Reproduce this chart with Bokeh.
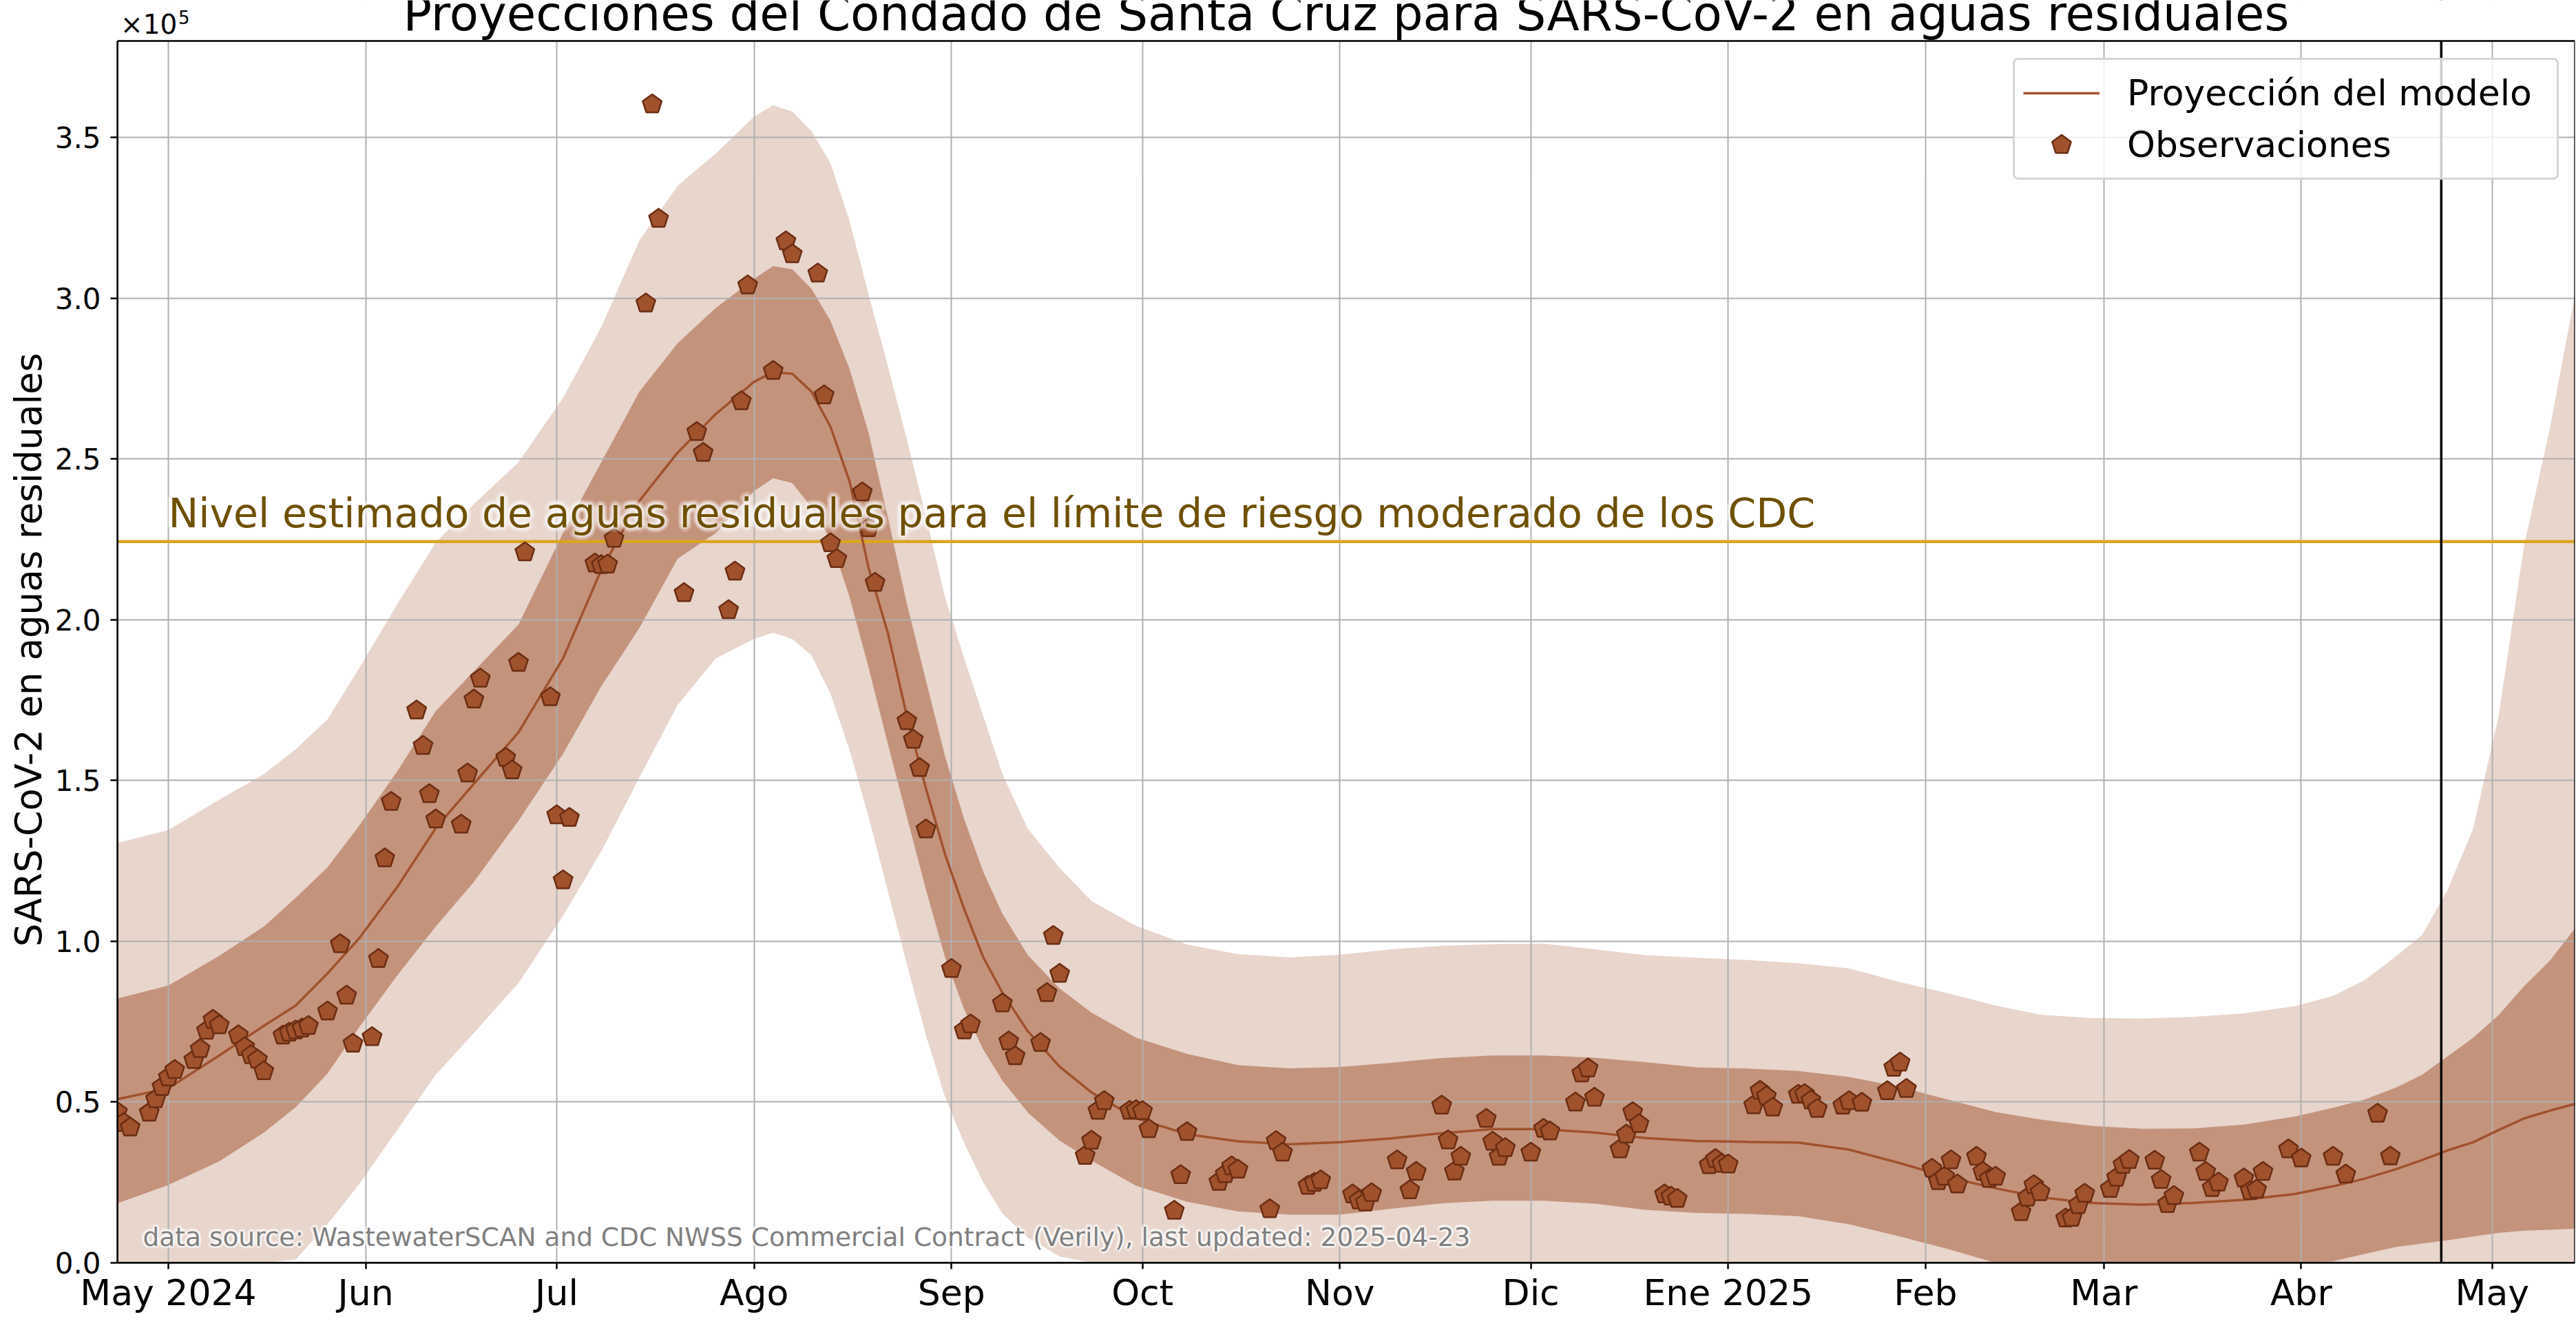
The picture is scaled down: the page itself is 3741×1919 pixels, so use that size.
import json
import numpy as np
import pandas as pd
from bokeh.plotting import figure
from bokeh.models import (Range1d, FixedTicker, CustomJSTickFormatter, Span, Label,
                          Legend, LegendItem, ColumnDataSource, BoxAnnotation)
from bokeh.embed import file_html
from bokeh.resources import INLINE

# ---------------- data ----------------
BASE_DATE = "2024-05-01"          # day 0 of the day offsets below
X_START, X_END = "2024-04-23", "2025-05-14"
LAST_UPDATED = "2025-04-23"
THRESHOLD = 2.243e5
Y_MAX = 3.80e5

tick_dates = ["2024-05-01", "2024-06-01", "2024-07-01", "2024-08-01", "2024-09-01",
              "2024-10-01", "2024-11-01", "2024-12-01", "2025-01-01", "2025-02-01",
              "2025-03-01", "2025-04-01", "2025-05-01"]
tick_labels = ["May 2024", "Jun", "Jul", "Ago", "Sep", "Oct", "Nov", "Dic",
               "Ene 2025", "Feb", "Mar", "Abr", "May"]
y_ticks = [0.0, 0.5e5, 1.0e5, 1.5e5, 2.0e5, 2.5e5, 3.0e5, 3.5e5]

# model projection (values in units of 1e5)
band_day = [-8, 0, 8, 15, 20, 25, 30, 36, 42, 48, 55, 62, 68, 74, 80, 86, 92, 95, 98,
            101, 104, 107, 110, 113, 116, 119, 122, 125, 128, 131, 135, 140, 145, 152,
            160, 168, 176, 184, 192, 200, 208, 216, 224, 232, 240, 248, 256, 264, 272,
            280, 287, 294, 302, 310, 318, 326, 334, 340, 345, 350, 354, 358, 362, 366,
            370, 374, 378]
median_e5 = [0.509, 0.543, 0.645, 0.737, 0.80, 0.90, 1.01, 1.17, 1.352, 1.49, 1.65, 1.88,
             2.155, 2.37, 2.52, 2.64, 2.74, 2.77, 2.765, 2.71, 2.60, 2.43, 2.16, 1.96,
             1.70, 1.475, 1.27, 1.10, 0.95, 0.84, 0.72, 0.61, 0.53, 0.45, 0.40, 0.378,
             0.369, 0.375, 0.387, 0.403, 0.416, 0.416, 0.405, 0.388, 0.379, 0.376, 0.374,
             0.352, 0.31, 0.264, 0.232, 0.204, 0.186, 0.181, 0.186, 0.196, 0.214, 0.238,
             0.262, 0.292, 0.32, 0.35, 0.375, 0.413, 0.449, 0.473, 0.494]
inner_lo_e5 = [0.185, 0.242, 0.316, 0.405, 0.484, 0.589, 0.733, 0.895, 1.046, 1.185, 1.375,
               1.583, 1.793, 1.975, 2.19, 2.27, 2.40, 2.44, 2.425, 2.35, 2.25, 2.07, 1.85,
               1.615, 1.387, 1.16, 0.95, 0.788, 0.663, 0.567, 0.467, 0.38, 0.318, 0.24,
               0.19, 0.16, 0.15, 0.15, 0.168, 0.185, 0.193, 0.193, 0.184, 0.165, 0.155,
               0.152, 0.145, 0.12, 0.082, 0.04, 0.0, 0.0, 0.0, 0.0, 0.0, 0.0, 0.0, 0.005,
               0.028, 0.05, 0.06, 0.07, 0.082, 0.093, 0.10, 0.103, 0.106]
inner_hi_e5 = [0.822, 0.862, 0.955, 1.046, 1.135, 1.23, 1.36, 1.53, 1.716, 1.84, 1.985,
               2.27, 2.49, 2.71, 2.86, 2.97, 3.06, 3.10, 3.09, 3.03, 2.93, 2.78, 2.58,
               2.32, 2.05, 1.81, 1.575, 1.38, 1.216, 1.086, 0.957, 0.853, 0.778, 0.70,
               0.65, 0.615, 0.605, 0.609, 0.622, 0.637, 0.645, 0.645, 0.638, 0.624, 0.608,
               0.604, 0.597, 0.578, 0.547, 0.505, 0.469, 0.446, 0.426, 0.417, 0.418, 0.430,
               0.455, 0.482, 0.508, 0.546, 0.585, 0.642, 0.70, 0.77, 0.86, 0.938, 1.040]
outer_lo_e5 = [0.0, 0.0, 0.0, 0.0, 0.01, 0.12, 0.245, 0.415, 0.585, 0.715, 0.87, 1.08,
               1.28, 1.51, 1.735, 1.88, 1.94, 1.96, 1.94, 1.89, 1.77, 1.595, 1.386, 1.157,
               0.929, 0.707, 0.516, 0.372, 0.25, 0.153, 0.078, 0.02, 0.0, 0.0, 0.0, 0.0,
               0.0, 0.0, 0.0, 0.0, 0.0, 0.0, 0.0, 0.0, 0.0, 0.0, 0.0, 0.0, 0.0, 0.0, 0.0,
               0.0, 0.0, 0.0, 0.0, 0.0, 0.0, 0.0, 0.0, 0.0, 0.0, 0.0, 0.0, 0.0, 0.0, 0.0,
               0.0]
outer_hi_e5 = [1.306, 1.346, 1.44, 1.52, 1.597, 1.69, 1.85, 2.05, 2.24, 2.36, 2.49, 2.69,
               2.91, 3.18, 3.35, 3.45, 3.565, 3.60, 3.58, 3.52, 3.42, 3.24, 3.01, 2.79,
               2.56, 2.32, 2.07, 1.88, 1.70, 1.52, 1.35, 1.228, 1.125, 1.048, 0.99, 0.96,
               0.95, 0.958, 0.975, 0.986, 0.991, 0.993, 0.975, 0.957, 0.949, 0.942, 0.932,
               0.916, 0.873, 0.836, 0.80, 0.772, 0.761, 0.76, 0.765, 0.776, 0.798, 0.83,
               0.88, 0.955, 1.02, 1.16, 1.35, 1.70, 2.23, 2.59, 3.01]

# observations (day offset from BASE_DATE, value in units of 1e5)
obs_day = [-8, -7, -6, -3, -2, -1, 0, 1, 4, 5, 6, 7, 8, 11, 12, 13, 14, 15,
           18, 19, 20, 21, 22, 25, 27, 28, 29, 32, 33, 34, 35, 39, 40, 41, 42,
           46, 47, 48, 49, 53, 54, 55, 56, 60, 61, 62, 63, 67, 68, 69, 70,
           75, 76, 77, 81, 83, 84, 88, 89, 90, 91, 95, 97, 98, 102, 103, 104, 105,
           109, 110, 111, 116, 117, 118, 119, 123, 125, 126, 131, 132, 133,
           137, 138, 139, 140, 144, 145, 146, 147, 151, 152, 153, 154, 158, 159, 160,
           165, 166, 167, 168, 173, 174, 175, 179, 180, 181, 186, 187, 188, 189,
           193, 195, 196, 200, 201, 202, 203, 207, 208, 209, 210, 214, 216, 217,
           221, 222, 223, 224, 228, 229, 230, 231, 235, 236, 237, 242, 243, 244, 245,
           249, 250, 251, 252, 256, 257, 258, 259, 263, 264, 266, 270, 271, 272, 273,
           277, 278, 279, 280, 281, 284, 285, 286, 287, 291, 292, 293, 294,
           298, 299, 300, 301, 305, 306, 307, 308, 312, 313, 314, 315,
           319, 320, 321, 322, 326, 327, 328, 329, 333, 335, 340, 342, 347, 349]
obs_val_e5 = [0.469, 0.435, 0.421, 0.467, 0.509, 0.547, 0.577, 0.600, 0.631, 0.665, 0.722, 0.756, 0.739, 0.708, 0.671, 0.646, 0.632, 0.596,
              0.707, 0.716, 0.723, 0.729, 0.737, 0.782, 0.991, 0.831, 0.682, 0.702, 0.945, 1.258, 1.434, 1.718, 1.608, 1.458, 1.379,
              1.363, 1.522, 1.752, 1.817, 1.571, 1.532, 1.866, 2.210, 1.759, 1.392, 1.190, 1.384, 2.175, 2.170, 2.172, 2.252,
              2.984, 3.603, 3.247, 2.083, 2.584, 2.519, 2.030, 2.150, 2.680, 3.040, 2.774, 3.177, 3.137, 3.077, 2.698, 2.238, 2.189,
              2.396, 2.285, 2.115, 1.685, 1.627, 1.539, 1.348, 0.914, 0.723, 0.742, 0.807, 0.689, 0.643,
              0.684, 0.839, 1.017, 0.899, 0.333, 0.380, 0.473, 0.503, 0.473, 0.475, 0.472, 0.416, 0.162, 0.273, 0.407,
              0.252, 0.276, 0.300, 0.290, 0.167, 0.379, 0.343, 0.240, 0.249, 0.257, 0.213, 0.194, 0.188, 0.217,
              0.319, 0.226, 0.283, 0.489, 0.381, 0.284, 0.330, 0.448, 0.377, 0.330, 0.357, 0.343, 0.417, 0.409,
              0.499, 0.589, 0.605, 0.514, 0.353, 0.399, 0.469, 0.432, 0.213, 0.206, 0.199, 0.304, 0.323, 0.308, 0.306,
              0.490, 0.535, 0.518, 0.483, 0.523, 0.525, 0.505, 0.479, 0.489, 0.503, 0.498, 0.534, 0.607, 0.623, 0.541,
              0.293, 0.254, 0.268, 0.319, 0.244, 0.330, 0.283, 0.261, 0.268, 0.158, 0.203, 0.242, 0.220,
              0.138, 0.140, 0.180, 0.215, 0.230, 0.265, 0.305, 0.320, 0.318, 0.258, 0.183, 0.208,
              0.343, 0.283, 0.233, 0.250, 0.263, 0.223, 0.228, 0.283, 0.353, 0.325, 0.330, 0.275, 0.464, 0.331]
assert len(obs_day) == len(obs_val_e5)

# ---------------- style ----------------
FONT = "DejaVu Sans"
SIENNA = "#A0522D"
MARKER_EDGE = "#6B2D12"
OUTER_COLOR = "#E8D5CC"
INNER_COLOR = "#C4937C"
GOLD = "#DAA520"
GOLD_TEXT = "#6E5000"
PLOT_W, PLOT_H = 3569, 1775        # visible axes box in px
TOP_SPACE = 59                     # title strip above the axes box (kept inside the frame)
FRAME_H = PLOT_H + TOP_SPACE
Y_TOP = Y_MAX * FRAME_H / PLOT_H
BASELINE_FIX = 0.346               # em offset between requested and rendered baseline

base = pd.Timestamp(BASE_DATE)
def days_to_dt(days):
    return base + pd.to_timedelta(np.asarray(days, dtype=float), unit="D")

def ms(d):
    return pd.Timestamp(d).value / 1e6

x0, x1 = ms(X_START), ms(X_END)

band_src = ColumnDataSource(dict(
    x=days_to_dt(band_day),
    m=np.asarray(median_e5) * 1e5,
    il=np.asarray(inner_lo_e5) * 1e5, ih=np.asarray(inner_hi_e5) * 1e5,
    ol=np.asarray(outer_lo_e5) * 1e5, oh=np.asarray(outer_hi_e5) * 1e5))
obs_src = ColumnDataSource(dict(x=days_to_dt(obs_day), y=np.asarray(obs_val_e5) * 1e5))

p = figure(x_axis_type="datetime",
           x_range=Range1d(x0, x1), y_range=Range1d(0, Y_TOP),
           frame_width=PLOT_W, frame_height=FRAME_H,
           min_border_left=170, min_border_right=2, min_border_top=0, min_border_bottom=77,
           output_backend="svg", toolbar_location=None)
p.background_fill_color = "white"
p.border_fill_color = "white"
p.outline_line_color = None

xticker = FixedTicker(ticks=[ms(d) for d in tick_dates])
yticker = FixedTicker(ticks=y_ticks)
label_map = {str(int(ms(d))): lab for d, lab in zip(tick_dates, tick_labels)}
p.xaxis.ticker = xticker
p.xaxis.formatter = CustomJSTickFormatter(code="const m = %s; return m[String(Math.round(tick))] || '';" % json.dumps(label_map))
p.yaxis.ticker = yticker
p.yaxis.formatter = CustomJSTickFormatter(code="return (tick/1e5).toFixed(1);")
p.yaxis.bounds = (0, Y_MAX)
p.xgrid.ticker = xticker
p.ygrid.ticker = yticker
for g in (p.xgrid, p.ygrid):
    g.grid_line_color = "#b0b0b0"
    g.grid_line_width = 2
    g.grid_line_alpha = 1.0

for ax in (p.xaxis, p.yaxis):
    ax.axis_line_width = 2.5
    ax.axis_line_color = "black"
    ax.major_tick_line_width = 2.5
    ax.major_tick_line_color = "black"
    ax.major_tick_in = 0
    ax.minor_tick_line_color = None
    ax.major_label_text_font = FONT
    ax.major_label_text_color = "black"
p.xaxis.major_tick_out = 9
p.xaxis.major_label_text_font_size = "52px"
p.xaxis.major_label_standoff = 4
p.yaxis.major_tick_out = 10
p.yaxis.major_label_text_font_size = "42px"
p.yaxis.major_label_standoff = 14
# two en-spaces at the end re-centre the label on the axes box (the frame also holds the title strip)
p.yaxis.axis_label = "SARS-CoV-2 en aguas residuales" + "\u2002\u2002"
p.yaxis.axis_label_text_font = FONT
p.yaxis.axis_label_text_font_size = "53px"
p.yaxis.axis_label_text_font_style = "normal"
p.yaxis.axis_label_text_color = "black"
p.yaxis.axis_label_standoff = 5

# bands
p.varea(x="x", y1="ol", y2="oh", source=band_src, fill_color=OUTER_COLOR, fill_alpha=1.0, level="image")
p.varea(x="x", y1="il", y2="ih", source=band_src, fill_color=INNER_COLOR, fill_alpha=1.0, level="image")

p.add_layout(Span(location=THRESHOLD, dimension="width", line_color=GOLD, line_width=4.5, level="underlay"))

line_r = p.line(x="x", y="m", source=band_src, line_color=SIENNA, line_width=3.5)

try:
    obs_r = p.ngon(x="x", y="y", radius=14.5, radius_units="screen", n=5, angle=0.0,
                   source=obs_src, fill_color=SIENNA, line_color=MARKER_EDGE, line_width=2.5)
except Exception:
    px_per_ms = PLOT_W / (x1 - x0)
    px_per_y = FRAME_H / Y_TOP
    th = np.pi / 2 + np.arange(5) * 2 * np.pi / 5
    xs_ms = (obs_src.data["x"].values.astype("datetime64[ms]").astype(np.int64)).astype(float)
    xs = [list(xv + 14.5 * np.cos(th) / px_per_ms) for xv in xs_ms]
    ys = [list(yv + 14.5 * np.sin(th) / px_per_y) for yv in obs_src.data["y"]]
    obs_r = p.patches(xs=xs, ys=ys, fill_color=SIENNA, line_color=MARKER_EDGE, line_width=2.5)

p.add_layout(Span(location=ms(LAST_UPDATED), dimension="height", line_color="black", line_width=3.5))

# white strip above the axes box (title area) and the axes box outline
p.add_layout(BoxAnnotation(bottom=Y_MAX, fill_color="white", fill_alpha=1.0, line_color=None))
p.add_layout(BoxAnnotation(left=x0, right=x1, bottom=0, top=Y_MAX, fill_alpha=0.0,
                           line_color="black", line_width=2.5, line_alpha=1.0))

# legend
legend = Legend(items=[LegendItem(label="Proyección del modelo", renderers=[line_r]),
                       LegendItem(label="Observaciones", renderers=[obs_r])],
                padding=12, spacing=3,
                glyph_width=111, glyph_height=72, label_standoff=40, label_width=612,
                label_text_font=FONT, label_text_font_size="52px", label_text_color="black",
                border_line_color="#cccccc", border_line_width=3, border_line_alpha=0.8,
                background_fill_color="white", background_fill_alpha=0.8)
if "border_radius" in legend.properties():
    legend.border_radius = 8
legend.location = (PLOT_W - 27 - 789, FRAME_H - TOP_SPACE - 27 - 175)
p.add_layout(legend)

# texts (anchored in data coordinates; y = desired baseline)
def add_label(text, x, y, size_px, color, halo=0, halo_alpha=0.15,
              x_offset=0, y_offset=0, align="left"):
    size = "%spx" % size_px
    y_offset = y_offset + BASELINE_FIX * size_px
    if halo:
        for rr in (halo, halo / 2.0):
            for k in range(16):
                a = 2 * np.pi * k / 16
                p.add_layout(Label(x=x, y=y, text=text,
                                   x_offset=x_offset + rr * np.cos(a), y_offset=y_offset + rr * np.sin(a),
                                   text_font=FONT, text_font_size=size, text_color="white",
                                   text_alpha=halo_alpha, text_align=align, text_baseline="alphabetic"))
    p.add_layout(Label(x=x, y=y, text=text,
                       x_offset=x_offset, y_offset=y_offset, text_font=FONT, text_font_size=size,
                       text_color=color, text_align=align, text_baseline="alphabetic"))

add_label("Nivel estimado de aguas residuales para el límite de riesgo moderado de los CDC",
          ms(BASE_DATE), THRESHOLD, 58.5, GOLD_TEXT, halo=7, halo_alpha=0.12, y_offset=21)
add_label("data source: WastewaterSCAN and CDC NWSS Commercial Contract (Verily), last updated: " + LAST_UPDATED,
          x0, 0.0, 37.5, "#808080", halo=4, halo_alpha=0.2, x_offset=37, y_offset=25)
add_label("Proyecciones del Condado de Santa Cruz para SARS-CoV-2 en aguas residuales",
          (x0 + x1) / 2, Y_MAX, 69, "black", y_offset=15.7, align="center")
# axis multiplier "×10^5"
add_label("×10", x0, Y_MAX, 39, "black", x_offset=4.5, y_offset=10.7)
add_label("5", x0, Y_MAX, 26, "black", x_offset=88.5, y_offset=25.7)

open("out.html", "w", encoding="utf-8").write(file_html(p, INLINE))
